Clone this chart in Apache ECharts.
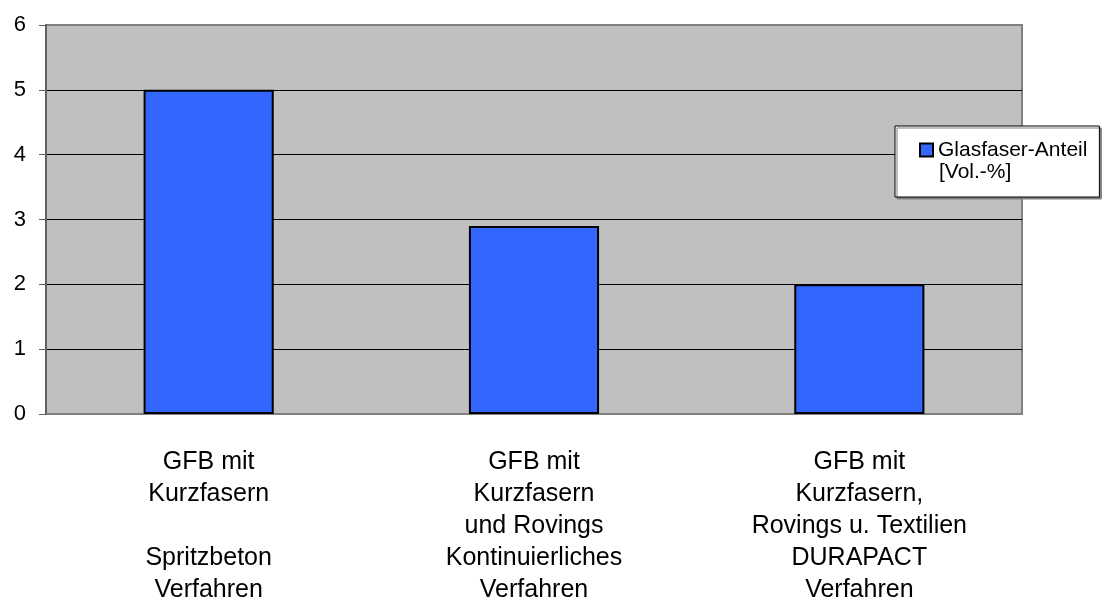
<!DOCTYPE html>
<html>
<head>
<meta charset="utf-8">
<script src="https://cdn.jsdelivr.net/npm/echarts@6/dist/echarts.min.js"></script>
<style>
  html, body { margin: 0; padding: 0; background: #fff; }
  #chart { width: 1104px; height: 601px; }
</style>
</head>
<body>
<div id="chart"></div>
<script>
// Verfahren (x-axis categories)
const categories = [
  'GFB mit\nKurzfasern\n\nSpritzbeton\nVerfahren',
  'GFB mit\nKurzfasern\nund Rovings\nKontinuierliches\nVerfahren',
  'GFB mit\nKurzfasern,\nRovings u. Textilien\nDURAPACT\nVerfahren'
];
// Glasfaser-Anteil in Vol.-%
const seriesName = 'Glasfaser-Anteil [Vol.-%]';
const fiberShare = [5, 2.9, 2];
// y-axis range
const yMin = 0, yMax = 6, yStep = 1;

const FONT = '"Liberation Sans", Arial, sans-serif';

const chart = echarts.init(document.getElementById('chart'), null, { renderer: 'canvas' });
chart.setOption({
  animation: false,
  backgroundColor: '#ffffff',
  grid: {
    left: 46, right: 82, top: 25, bottom: 187,
    outerBoundsMode: 'none',
    containLabel: false,
    show: true,
    backgroundColor: '#c0c0c0',
    borderColor: '#808080',
    borderWidth: 2
  },
  legend: {
    data: [seriesName],
    left: 895, top: 126,
    orient: 'vertical',
    padding: [11, 12, 34, 24],
    itemWidth: 13, itemHeight: 13,
    icon: 'rect',
    backgroundColor: '#ffffff',
    borderColor: '#000000',
    borderWidth: 1,
    shadowColor: '#808080',
    shadowOffsetX: 2,
    shadowOffsetY: 2,
    shadowBlur: 0,
    itemStyle: { borderColor: '#000', borderWidth: 2 },
    formatter: () => 'Glasfaser-Anteil',
    textStyle: { fontFamily: FONT, fontSize: 21, color: '#000', lineHeight: 26 }
  },
  graphic: [{
    type: 'text',
    left: 939, top: 162,
    z: 100,
    style: { text: '[Vol.-%]', font: '21px ' + FONT, fill: '#000' }
  }],
  xAxis: {
    type: 'category',
    data: categories,
    axisLine: { show: false },
    axisTick: { show: false },
    axisLabel: {
      interval: 0,
      margin: 32,
      fontFamily: FONT, fontSize: 25, lineHeight: 32,
      color: '#000', align: 'center'
    }
  },
  yAxis: {
    type: 'value',
    min: yMin, max: yMax, interval: yStep,
    axisLine: { show: true, lineStyle: { color: '#606060', width: 2 } },
    axisTick: { show: true, length: 7, lineStyle: { color: '#606060', width: 1 } },
    axisLabel: { margin: 20, fontFamily: FONT, fontSize: 22, color: '#000' },
    splitLine: {
      show: true,
      lineStyle: { color: ['#808080', '#000', '#000', '#000', '#000', '#000', '#808080'], width: 1 }
    }
  },
  series: [{
    name: seriesName,
    type: 'bar',
    data: fiberShare,
    barWidth: '40%',
    itemStyle: { color: '#3366ff', borderColor: '#000', borderWidth: 2 }
  }]
});
</script>
</body>
</html>
